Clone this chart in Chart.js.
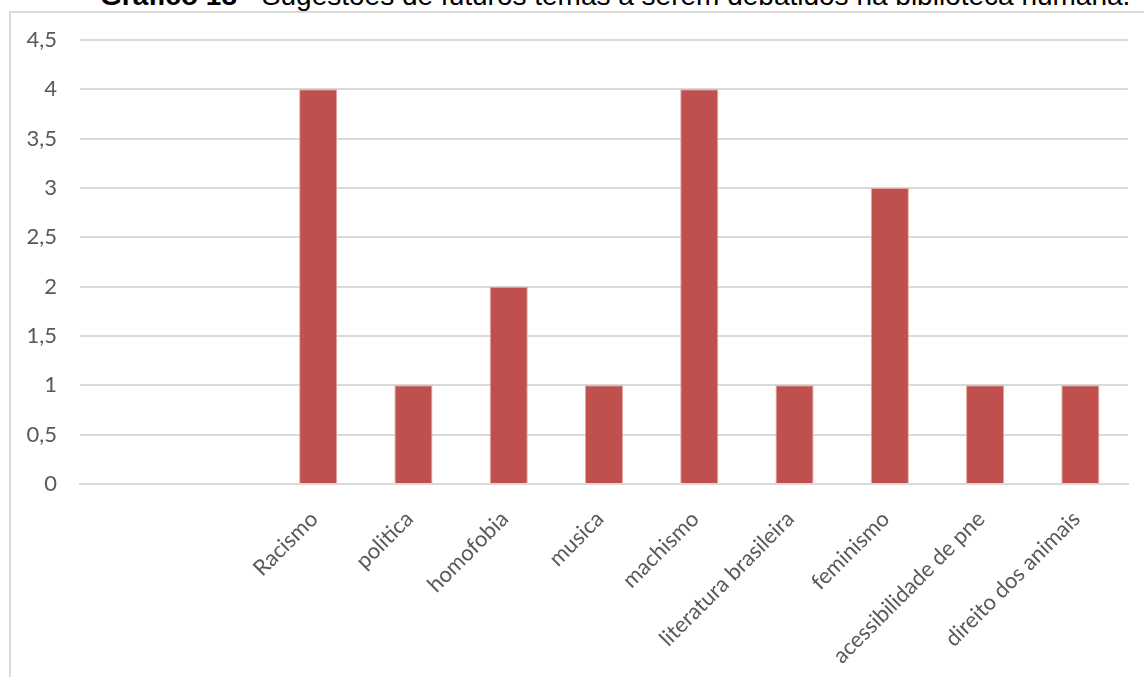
<!DOCTYPE html>
<html>
<head>
<meta charset="utf-8">
<script src="https://cdn.jsdelivr.net/npm/chart.js@4"></script>
<style>
  body { margin: 0; background: #fff; overflow: hidden; }
  #titulo {
    position: absolute; left: 100px; top: -20px; white-space: nowrap;
    font-family: "Liberation Sans", Arial, sans-serif; font-size: 28px; color: #000;
  }
  #moldura {
    position: absolute; left: 9px; top: 11px; width: 1200px; height: 700px;
    border-left: 2px solid #d9d9d9; border-top: 2px solid #d9d9d9;
  }
  #caixa { position: absolute; left: 0; top: 0; width: 1144px; height: 677px; }
</style>
</head>
<body>
<div id="titulo"><b>Gráfico 18</b> - Sugestões de futuros temas a serem debatidos na biblioteca humana.</div>
<div id="moldura"></div>
<div id="caixa"><canvas id="graficoTemas"></canvas></div>
<script>
// temas sugeridos (as duas primeiras categorias vêm vazias no original)
const temas = ["", "", "Racismo", "politica", "homofobia", "musica", "machismo",
  "literatura brasileira", "feminismo", "acessibilidade de pne", "direito dos animais"];
const votos = [null, null, 4, 1, 2, 1, 4, 1, 3, 1, 1];
const ticksY = [0, 0.5, 1, 1.5, 2, 2.5, 3, 3.5, 4, 4.5];

const ctx = document.getElementById("graficoTemas");

new Chart(ctx, {
  type: "bar",
  data: {
    labels: temas,
    datasets: [
      {
        data: votos,
        backgroundColor: "#c0504d",
        borderColor: "#e3a5a3",
        borderWidth: 1,
        barPercentage: 0.4,
        categoryPercentage: 1,
      },
    ],
  },
  options: {
    responsive: true,
    maintainAspectRatio: false,
    animation: false,
    layout: { padding: { top: 40, right: 16, left: 0, bottom: 0 } },
    plugins: { legend: { display: false }, tooltip: { enabled: false } },
    scales: {
      x: {
        grid: { display: false, drawTicks: false },
        border: { color: "#d9d9d9", width: 2 },
        ticks: {
          minRotation: 45,
          maxRotation: 45,
          autoSkip: false,
          padding: 22,
          labelOffset: -4,
          color: "#595959",
          font: { family: "Lato", size: 22 },
        },
        afterFit: function (scale) {
          scale.height = 193;
        },
      },
      y: {
        min: 0,
        max: 4.5,
        afterBuildTicks: function (scale) {
          scale.ticks = ticksY.map((v) => ({ value: v }));
        },
        grid: { color: "#d9d9d9", lineWidth: 2, drawTicks: false },
        border: { display: false },
        ticks: {
          padding: 23,
          color: "#595959",
          font: { family: "Lato", size: 22 },
          callback: (v) => String(v).replace(".", ","),
        },
        afterFit: function (scale) {
          scale.width = 80;
        },
      },
    },
  },
});
</script>
</body>
</html>
